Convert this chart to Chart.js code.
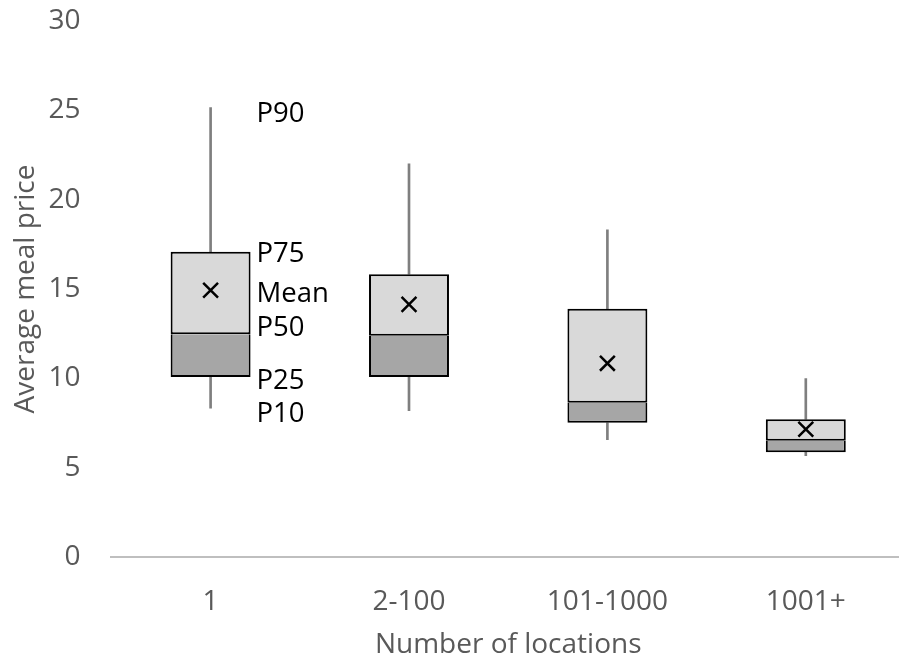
<!DOCTYPE html>
<html>
<head>
<meta charset="utf-8">
<script src="https://cdn.jsdelivr.net/npm/chart.js@4.4.1/dist/chart.umd.min.js"></script>
<style>
  html, body { margin: 0; padding: 0; background: #fff; overflow: hidden; }
  canvas { display: block; }
</style>
</head>
<body>
<canvas id="boxCanvas" width="918" height="666"></canvas>
<script>
// Average meal price by number of locations
const categories = ["1", "2-100", "101-1000", "1001+"];
const p10 = [8.33, 8.19, 6.57, 5.67];
const p25 = [10.07, 10.07, 7.51, 5.86];
const p50 = [12.47, 12.38, 8.63, 6.5];
const p75 = [17.08, 15.83, 13.89, 7.71];
const p90 = [25.15, 22.0, 18.31, 9.98];
const mean = [14.93, 14.14, 10.84, 7.15];

// labels beside the first box
const keyNames = ["P90", "P75", "Mean", "P50", "P25", "P10"];
const keyValues = [24.8, 16.97, 14.7, 12.8, 9.83, 7.98];

const yTicks = [0, 5, 10, 15, 20, 25, 30];

Chart.defaults.font.family = "'Open Sans', 'Noto Sans', sans-serif";
Chart.defaults.font.size = 28;

const pairs = (a, b) => a.map((v, i) => [v, b[i]]);

const keyLabels = {
    id: "keyLabels",
    afterDatasetsDraw(chart) {
        const ctx = chart.ctx;
        const bar = chart.getDatasetMeta(2).data[0];
        const x = bar.x + bar.width / 2 + 6;
        ctx.save();
        ctx.font = "27.5px 'Open Sans'";
        ctx.fillStyle = "#000";
        ctx.textAlign = "left";
        ctx.textBaseline = "middle";
        keyNames.forEach((name, i) => {
            ctx.fillText(name, x, chart.scales.y.getPixelForValue(keyValues[i]));
        });
        ctx.restore();
    },
};

const boxCanvas = document.getElementById("boxCanvas");

const boxChart = new Chart(boxCanvas, {
    data: {
        labels: categories,
        datasets: [
            {
                type: "bar",
                label: "lower whisker",
                data: pairs(p10, p25),
                backgroundColor: "#7f7f7f",
                barThickness: 2,
                grouped: false,
                order: 4,
            },
            {
                type: "bar",
                label: "upper whisker",
                data: pairs(p75, p90),
                backgroundColor: "#7f7f7f",
                barThickness: 2,
                grouped: false,
                order: 4,
            },
            {
                type: "bar",
                label: "P50-P75",
                data: pairs(p50, p75),
                backgroundColor: "#d9d9d9",
                borderColor: "#000",
                borderWidth: 2,
                borderSkipped: false,
                barPercentage: 0.403,
                categoryPercentage: 1,
                grouped: false,
                order: 2,
            },
            {
                type: "bar",
                label: "P25-P50",
                data: pairs(p25, p50),
                backgroundColor: "#a6a6a6",
                borderColor: "#000",
                borderWidth: 2,
                borderSkipped: "top",
                barPercentage: 0.403,
                categoryPercentage: 1,
                grouped: false,
                order: 3,
            },
            {
                type: "line",
                label: "Mean",
                data: mean,
                showLine: false,
                pointStyle: "crossRot",
                pointRadius: 10.5,
                pointBorderWidth: 2.5,
                pointBorderColor: "#000",
                pointBackgroundColor: "#000",
                order: 1,
            },
        ],
    },
    options: {
        responsive: false,
        animation: false,
        layout: { padding: { top: 21, right: 0, bottom: 4, left: 0 } },
        plugins: {
            legend: { display: false },
            tooltip: { enabled: false },
        },
        scales: {
            x: {
                type: "category",
                offset: true,
                grid: { display: false, drawTicks: false },
                border: { display: true, color: "#bfbfbf", width: 2 },
                ticks: { color: "#595959", padding: 28 },
                title: {
                    display: true,
                    text: "Number of locations",
                    color: "#595959",
                    padding: { top: 0, bottom: 0 },
                },
                afterFit: (s) => { s.height = 105; },
            },
            y: {
                min: 0,
                max: 30,
                afterBuildTicks: (s) => { s.ticks = yTicks.map((v) => ({ value: v })); },
                grid: { display: false, drawTicks: false },
                border: { display: false },
                ticks: { color: "#595959", padding: 31 },
                title: {
                    display: true,
                    text: "Average meal price",
                    color: "#595959",
                    padding: { top: 9, bottom: 0 },
                },
                afterFit: (s) => {
                    s.width = 111.4;
                    s.paddingTop = 0;
                    s.paddingBottom = 0;
                },
            },
        },
    },
    plugins: [keyLabels],
});
</script>
</body>
</html>
